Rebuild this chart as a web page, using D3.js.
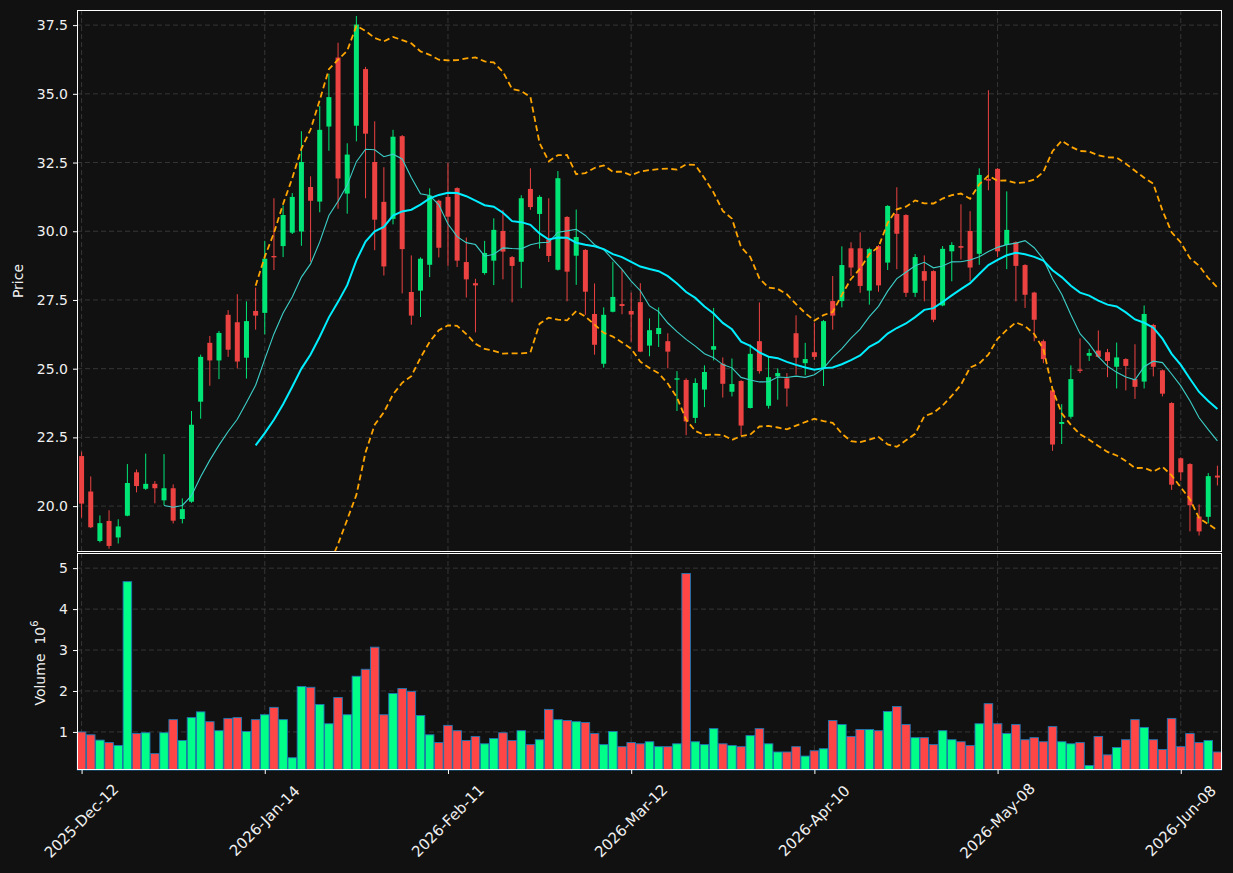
<!DOCTYPE html>
<html>
<head>
<meta charset="utf-8">
<script src="https://cdn.jsdelivr.net/npm/d3@7"></script>
<style>
    body { margin: 0; background: #111111; }
    svg text { font-family: "DejaVu Sans", sans-serif; fill: #f0f0f0; }
</style>
</head>
<body>
<div id="canvas-svg"></div>
<script>
// tick labels every 20 sessions
var tickIndex = [0, 20, 40, 60, 80, 100, 120];
var tickLabels = ["2025-Dec-12", "2026-Jan-14", "2026-Feb-11", "2026-Mar-12", "2026-Apr-10", "2026-May-08", "2026-Jun-08"];

var opens = [21.82, 20.53, 18.73, 19.46, 18.86, 19.65, 21.23, 20.63, 20.81, 20.21,
    20.65, 19.53, 20.16, 23.80, 25.94, 25.30, 26.96, 26.69, 25.40, 27.10,
    27.03, 29.10, 29.46, 29.95, 29.99, 31.61, 31.08, 33.81, 36.32, 31.37,
    33.84, 35.90, 32.52, 31.07, 30.45, 33.46, 27.79, 27.84, 28.78, 31.11,
    31.25, 31.57, 28.88, 28.11, 28.48, 28.93, 30.01, 29.06, 28.89, 31.54,
    30.63, 29.70, 28.60, 30.52, 29.11, 29.32, 26.99, 25.18, 27.07, 27.35,
    27.10, 27.42, 25.84, 26.26, 26.00, 24.60, 24.59, 23.21, 24.24, 25.69,
    25.18, 24.16, 24.55, 23.57, 26.00, 23.65, 24.72, 24.65, 26.29, 25.20,
    25.60, 25.03, 27.46, 27.46, 29.38, 29.38, 27.84, 29.46, 28.86, 30.63,
    30.59, 27.76, 28.55, 28.55, 27.30, 29.27, 29.46, 30.01, 29.18, 31.90,
    32.27, 29.50, 29.60, 28.77, 27.77, 26.00, 24.21, 22.99, 23.25, 24.97,
    25.47, 25.66, 25.60, 25.07, 25.35, 24.62, 24.53, 26.59, 24.94, 23.75,
    21.74, 21.53, 19.62, 19.61, 21.11];
var highs = [21.98, 21.08, 19.66, 19.85, 19.52, 21.53, 21.33, 21.91, 20.91, 21.89,
    20.79, 20.28, 23.46, 25.51, 26.19, 26.37, 27.13, 27.71, 27.45, 27.95,
    29.65, 31.20, 30.94, 31.39, 33.64, 32.00, 34.56, 35.73, 36.86, 33.20,
    37.83, 35.98, 34.00, 32.33, 33.69, 33.50, 29.12, 29.05, 31.56, 31.15,
    32.48, 31.60, 29.77, 28.27, 29.65, 30.47, 30.78, 29.10, 31.31, 32.29,
    31.31, 31.20, 32.19, 30.55, 30.79, 29.35, 28.10, 27.23, 28.89, 28.61,
    27.77, 28.11, 26.83, 27.23, 26.29, 24.91, 24.65, 24.65, 25.12, 27.21,
    25.41, 25.37, 24.58, 25.88, 27.41, 25.43, 25.01, 24.84, 26.94, 25.94,
    26.67, 26.77, 28.37, 29.45, 29.60, 29.96, 29.40, 29.50, 30.95, 31.60,
    30.62, 29.17, 29.12, 28.58, 29.46, 29.60, 30.98, 30.73, 32.29, 35.13,
    32.30, 31.45, 29.63, 28.80, 27.80, 26.06, 24.24, 23.71, 25.12, 26.10,
    25.72, 26.39, 25.72, 25.95, 25.38, 25.89, 27.30, 26.63, 24.97, 23.78,
    21.77, 21.56, 20.06, 21.20, 21.47];
var lows = [19.58, 19.20, 18.68, 18.45, 18.64, 19.63, 20.50, 20.59, 20.10, 20.03,
    19.37, 19.37, 20.12, 23.18, 24.38, 24.62, 25.43, 25.01, 24.64, 26.42,
    26.25, 28.59, 29.06, 29.90, 29.47, 28.89, 30.69, 32.93, 30.82, 30.64,
    33.27, 31.20, 29.31, 28.39, 30.25, 27.74, 26.60, 26.88, 28.33, 29.05,
    28.74, 28.70, 27.59, 26.32, 28.42, 28.04, 28.25, 27.41, 27.93, 30.78,
    29.37, 28.88, 28.57, 27.45, 28.05, 26.96, 25.51, 25.04, 27.05, 26.98,
    25.98, 25.60, 25.45, 25.79, 25.01, 23.46, 22.58, 23.02, 23.60, 25.30,
    23.95, 23.99, 22.58, 23.55, 24.82, 23.55, 23.87, 23.62, 24.78, 24.76,
    25.32, 24.37, 26.42, 27.23, 28.37, 27.76, 27.33, 27.80, 28.59, 28.62,
    27.61, 27.61, 27.45, 26.69, 27.27, 28.18, 28.97, 28.18, 28.78, 31.49,
    29.06, 28.62, 27.45, 27.21, 26.00, 25.20, 22.01, 22.26, 23.18, 24.84,
    25.28, 25.40, 24.69, 24.28, 24.21, 23.90, 24.28, 24.72, 23.99, 20.59,
    20.92, 19.08, 18.93, 19.37, 20.75];
var closes = [20.09, 19.23, 19.38, 18.55, 19.26, 20.84, 20.73, 20.81, 20.65, 20.65,
    19.47, 19.89, 22.96, 25.43, 25.30, 26.30, 25.69, 25.26, 26.73, 26.93,
    29.00, 29.05, 30.59, 31.25, 32.52, 31.11, 33.69, 34.88, 31.92, 32.79,
    37.52, 33.55, 30.42, 28.72, 33.44, 29.35, 26.93, 29.00, 31.30, 29.40,
    30.53, 28.93, 28.25, 28.03, 29.21, 30.05, 29.26, 28.74, 31.20, 30.88,
    31.25, 29.10, 31.93, 28.53, 29.79, 27.80, 25.87, 26.96, 27.61, 27.28,
    26.97, 25.62, 26.40, 26.48, 25.62, 24.65, 23.08, 24.48, 24.88, 25.82,
    24.45, 24.44, 22.93, 25.54, 24.91, 24.69, 24.84, 24.28, 25.40, 25.35,
    25.43, 26.73, 26.93, 28.77, 28.68, 28.01, 29.35, 28.03, 30.92, 29.91,
    27.76, 29.06, 28.20, 26.78, 29.36, 29.50, 29.40, 28.68, 32.05, 31.84,
    29.27, 30.05, 28.74, 27.69, 26.78, 25.35, 22.24, 23.06, 24.62, 24.92,
    25.57, 25.43, 25.28, 25.41, 25.10, 24.34, 26.99, 25.07, 24.09, 20.78,
    21.23, 20.03, 19.08, 21.09, 21.04];
// volume in millions
var volumes = [1.00, 0.93, 0.80, 0.74, 0.67, 4.67, 0.96, 0.98, 0.47, 0.98,
    1.30, 0.79, 1.35, 1.49, 1.25, 1.03, 1.33, 1.35, 1.01, 1.30,
    1.42, 1.60, 1.30, 0.37, 2.11, 2.09, 1.67, 1.20, 1.84, 1.42,
    2.36, 2.53, 3.07, 1.42, 1.94, 2.06, 1.99, 1.40, 0.93, 0.74,
    1.16, 1.03, 0.79, 0.89, 0.71, 0.84, 0.98, 0.79, 1.03, 0.69,
    0.81, 1.55, 1.30, 1.28, 1.25, 1.23, 0.96, 0.69, 1.01, 0.64,
    0.74, 0.71, 0.76, 0.64, 0.64, 0.71, 4.87, 0.76, 0.69, 1.08,
    0.71, 0.67, 0.64, 0.91, 1.08, 0.71, 0.51, 0.51, 0.64, 0.41,
    0.54, 0.59, 1.28, 1.18, 0.89, 1.06, 1.06, 1.03, 1.50, 1.62,
    1.18, 0.86, 0.86, 0.69, 1.03, 0.81, 0.76, 0.67, 1.20, 1.69,
    1.20, 0.96, 1.18, 0.81, 0.86, 0.76, 1.13, 0.76, 0.71, 0.74,
    0.18, 0.89, 0.44, 0.62, 0.81, 1.30, 1.11, 0.81, 0.57, 1.33,
    0.64, 0.96, 0.74, 0.79, 0.51];

var priceTicks = [20, 22.5, 25, 27.5, 30, 32.5, 35, 37.5];
var volumeTicks = [1, 2, 3, 4, 5];

var width = 1233, height = 873;
var left = 77, right = 1222;
var priceTop = 10, priceBottom = 552;
var volTop = 553, volBottom = 770;

var upCandle = "#00e676", downCandle = "#ec4242";
var upVol = "#00ff88", downVol = "#ff4646";

var n = closes.length;
var candles = closes.map(function(c, i) {
    return {i: i, o: opens[i], h: highs[i], l: lows[i], c: c, v: volumes[i]};
});

// rolling mean / bands from the closes
function rolling(period) {
    var out = [];
    for (var i = period - 1; i < n; i++) {
        var win = closes.slice(i - period + 1, i + 1);
        var m = d3.mean(win);
        var sd = Math.sqrt(d3.mean(win, function(d) { return (d - m) * (d - m); }));
        out.push({i: i, m: m, up: m + 2 * sd, lo: m - 2 * sd});
    }
    return out;
}
var ma10 = rolling(10);
var ma20 = rolling(20);

var x = d3.scaleLinear().domain([-0.5, n - 0.5]).range([left, right]);
var yPrice = d3.scaleLinear().domain([18.33, 38.05]).range([priceBottom, priceTop]);
var yVol = d3.scaleLinear().domain([0.07, 5.37]).range([volBottom, volTop]);

var svg = d3.select("#canvas-svg").append("svg")
    .attr("width", width)
    .attr("height", height);

svg.append("rect").attr("width", width).attr("height", height).attr("fill", "#111111");

var defs = svg.append("defs");
defs.append("clipPath").attr("id", "clipPrice").append("rect")
    .attr("x", left).attr("y", priceTop).attr("width", right - left).attr("height", priceBottom - priceTop);

// grids
function grid(g, yScale, ticks, top, bottom) {
    g.selectAll(".hg").data(ticks).enter().append("line")
        .attr("x1", left).attr("x2", right)
        .attr("y1", function(d) { return yScale(d); })
        .attr("y2", function(d) { return yScale(d); });
    g.selectAll(".vg").data(tickIndex).enter().append("line")
        .attr("x1", function(d) { return x(d); })
        .attr("x2", function(d) { return x(d); })
        .attr("y1", top).attr("y2", bottom);
    g.selectAll("line")
        .attr("stroke", "#3a3a3a")
        .attr("stroke-width", 0.9)
        .attr("stroke-dasharray", "5,3");
}
grid(svg.append("g"), yPrice, priceTicks, priceTop, priceBottom);
grid(svg.append("g"), yVol, volumeTicks, volTop, volBottom);

// candles
var bodyW = 5;
var cg = svg.append("g").attr("clip-path", "url(#clipPrice)");
cg.selectAll(".wick").data(candles).enter().append("line")
    .attr("x1", function(d) { return x(d.i); })
    .attr("x2", function(d) { return x(d.i); })
    .attr("y1", function(d) { return yPrice(d.h); })
    .attr("y2", function(d) { return yPrice(d.l); })
    .attr("stroke", function(d) { return d.c >= d.o ? upCandle : downCandle; })
    .attr("stroke-width", 1);
cg.selectAll(".body").data(candles).enter().append("rect")
    .attr("x", function(d) { return x(d.i) - bodyW / 2; })
    .attr("y", function(d) { return yPrice(Math.max(d.o, d.c)); })
    .attr("width", bodyW)
    .attr("height", function(d) { return Math.max(1.2, Math.abs(yPrice(d.o) - yPrice(d.c))); })
    .attr("fill", function(d) { return d.c >= d.o ? upCandle : downCandle; });

// averages and bands
var lineMid = d3.line().x(function(d) { return x(d.i); }).y(function(d) { return yPrice(d.m); });
var lineUp = d3.line().x(function(d) { return x(d.i); }).y(function(d) { return yPrice(d.up); });
var lineLo = d3.line().x(function(d) { return x(d.i); }).y(function(d) { return yPrice(d.lo); });

cg.append("path").datum(ma10).attr("d", lineMid)
    .attr("fill", "none").attr("stroke", "#3ccfc8").attr("stroke-width", 1.1);
cg.append("path").datum(ma20).attr("d", lineMid)
    .attr("fill", "none").attr("stroke", "#00eeff").attr("stroke-width", 2);
cg.append("path").datum(ma20).attr("d", lineUp)
    .attr("fill", "none").attr("stroke", "#ffa500").attr("stroke-width", 1.8).attr("stroke-dasharray", "6,3.5");
cg.append("path").datum(ma20).attr("d", lineLo)
    .attr("fill", "none").attr("stroke", "#ffa500").attr("stroke-width", 1.8).attr("stroke-dasharray", "6,3.5");

// volume bars
var barW = x(1) - x(0) - 0.6;
svg.append("g").selectAll("rect").data(candles).enter().append("rect")
    .attr("x", function(d) { return x(d.i) - barW / 2; })
    .attr("y", function(d) { return yVol(d.v); })
    .attr("width", barW)
    .attr("height", function(d) { return volBottom - yVol(d.v); })
    .attr("fill", function(d) { return d.c >= d.o ? upVol : downVol; })
    .attr("stroke", "#1f77b4")
    .attr("stroke-width", 0.9);

// frames
[[priceTop, priceBottom], [volTop, volBottom]].forEach(function(p) {
    svg.append("rect")
        .attr("x", left + 0.5).attr("y", p[0] + 0.5)
        .attr("width", right - left - 1).attr("height", p[1] - p[0] - 1)
        .attr("fill", "none").attr("stroke", "#ffffff").attr("stroke-width", 1)
        .attr("shape-rendering", "crispEdges");
});

// axes
var yAxisP = d3.axisLeft(yPrice).tickValues(priceTicks).tickFormat(d3.format(".1f")).tickSize(4).tickPadding(5);
var yAxisV = d3.axisLeft(yVol).tickValues(volumeTicks).tickFormat(d3.format("d")).tickSize(4).tickPadding(5);
var xAxis = d3.axisBottom(x).tickValues(tickIndex).tickFormat("").tickSize(4);

function styleAxis(g) {
    g.select(".domain").remove();
    g.selectAll(".tick line").attr("stroke", "#ffffff");
    g.selectAll(".tick text").attr("fill", "#f0f0f0").style("font-size", "14px")
        .style("font-family", "DejaVu Sans, sans-serif");
}
svg.append("g").attr("transform", "translate(" + left + ",0)").call(yAxisP).call(styleAxis);
svg.append("g").attr("transform", "translate(" + left + ",0)").call(yAxisV).call(styleAxis);
svg.append("g").attr("transform", "translate(0," + volBottom + ")").call(xAxis).call(styleAxis);

svg.append("g").selectAll("text").data(tickIndex).enter().append("text")
    .attr("transform", function(d) { return "translate(" + x(d) + ",821) rotate(-45)"; })
    .attr("text-anchor", "middle")
    .attr("dominant-baseline", "central")
    .style("font-size", "15px")
    .text(function(d, i) { return tickLabels[i]; });

svg.append("text")
    .attr("transform", "translate(18," + ((priceTop + priceBottom) / 2) + ") rotate(-90)")
    .attr("text-anchor", "middle")
    .attr("dominant-baseline", "central")
    .style("font-size", "14px")
    .text("Price");

var vl = svg.append("text")
    .attr("transform", "translate(40,663) rotate(-90)")
    .attr("text-anchor", "middle")
    .attr("dominant-baseline", "central")
    .style("font-size", "14px");
vl.append("tspan").text("Volume\u00a0\u00a010");
vl.append("tspan").attr("dy", -6).style("font-size", "10px").text("6");
</script>
</body>
</html>
